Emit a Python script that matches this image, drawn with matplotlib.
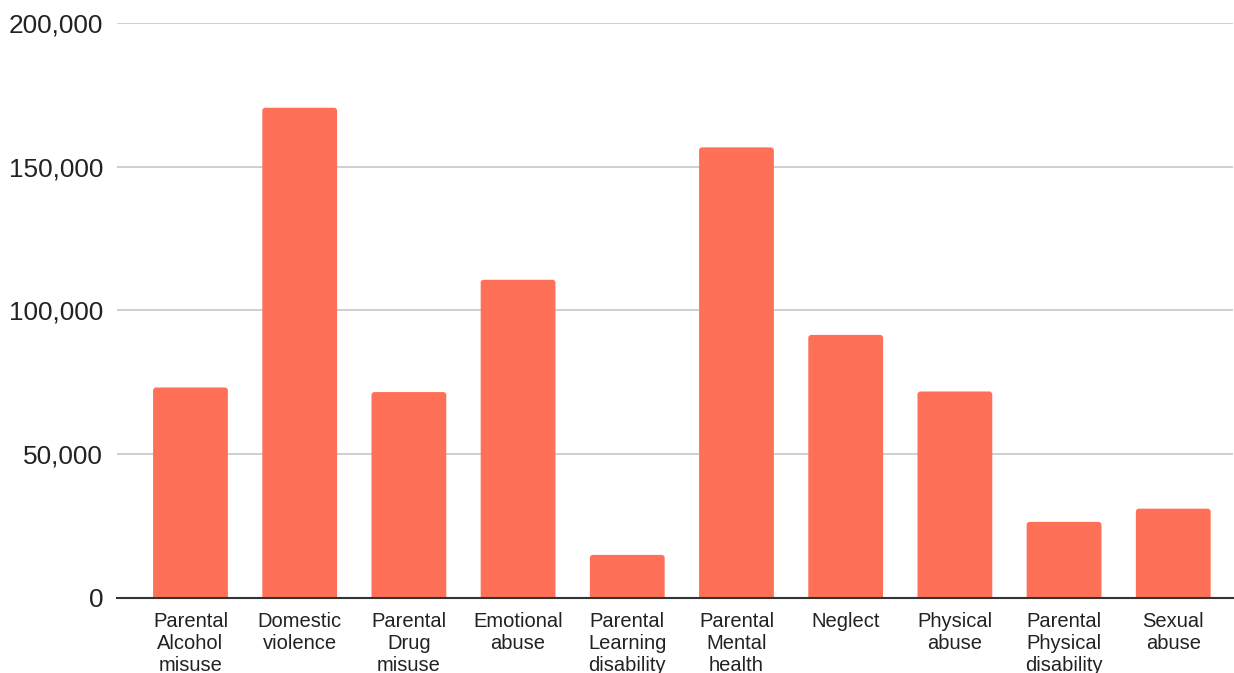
import matplotlib
matplotlib.use("Agg")
import matplotlib.pyplot as plt
from matplotlib.patches import FancyBboxPatch
from matplotlib.ticker import FuncFormatter

categories = [
    "Parental\nAlcohol\nmisuse",
    "Domestic\nviolence",
    "Parental\nDrug\nmisuse",
    "Emotional\nabuse",
    "Parental\nLearning\ndisability",
    "Parental\nMental\nhealth",
    "Neglect",
    "Physical\nabuse",
    "Parental\nPhysical\ndisability",
    "Sexual\nabuse",
]
values = [73200, 170600, 71600, 110700, 14900, 156800, 91500, 71800, 26400, 31000]
y_ticks = [0, 50000, 100000, 150000, 200000]

bar_color = "#ff7058"
text_color = "#222222"

plt.rcParams["font.family"] = ["Liberation Sans", "DejaVu Sans"]

fig = plt.figure(figsize=(12.34, 6.73), dpi=100)
ax = fig.add_axes([117 / 1234, 1 - 597.7 / 673, (1233 - 117) / 1234, (597.7 - 23.3) / 673])

x = list(range(len(categories)))
width = 0.685
ymax = 200000

ax.set_xlim(-0.673, 9.547)
ax.set_ylim(0, ymax)

# rounded-top bars: round box extended below zero so only the top corners show
ax_h_px = 597.7 - 23.3
px_y = ymax / ax_h_px
px_x = (9.547 + 0.673) / (1233 - 117)
r_px = 3.0
aspect = px_y / px_x
for xi, v in zip(x, values):
    patch = FancyBboxPatch(
        (xi - width / 2, -r_px * px_y * 2), width, v + r_px * px_y * 2,
        boxstyle=f"round,pad=0,rounding_size={r_px * px_x}",
        mutation_aspect=aspect,
        facecolor=bar_color, edgecolor="none", zorder=2,
    )
    ax.add_patch(patch)

ax.set_yticks(y_ticks)
ax.yaxis.set_major_formatter(FuncFormatter(lambda v, p: f"{int(v):,}"))
ax.set_xticks(x)
ax.set_xticklabels(categories, fontsize=14.5, color=text_color, linespacing=1.2)
ax.tick_params(axis="y", length=0, pad=10, labelsize=18.8, labelcolor=text_color)
ax.tick_params(axis="x", length=0, pad=10)

ax.grid(axis="y", color="#cccccc", linewidth=1.3, zorder=0)
ax.set_axisbelow(True)
for s in ["top", "right", "left"]:
    ax.spines[s].set_visible(False)
ax.spines["bottom"].set_color("#333333")
ax.spines["bottom"].set_linewidth(1.5)
ax.spines["bottom"].set_zorder(3)

fig.savefig("out.png", dpi=100, facecolor="white")
